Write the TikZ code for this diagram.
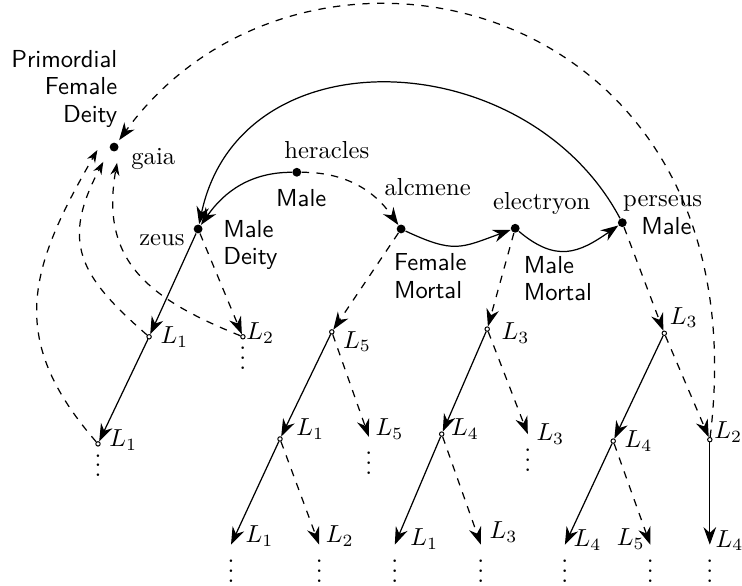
\documentclass[tikz,border=0pt]{standalone}
\usepackage{tikz}
\usetikzlibrary{arrows.meta}
\tikzset{
  godDot/.style={circle, fill=black, inner sep=0pt, minimum size=3.6pt},
  lvlDot/.style={circle, draw=black, fill=white, inner sep=0pt, minimum size=1.8pt},
  leafDots/.style={inner sep=0pt, anchor=north},
  nameLbl/.style={font=\normalsize},
  attrLbl/.style={font={\sffamily\fontsize{10}{11}\selectfont}, align=left},
  litLbl/.style={font=\normalsize},
  dotsLbl/.style={inner sep=0pt, yshift=3pt},
  arrowS/.style={-{Stealth[length=2.5mm, width=1.8mm]}, line width=0.5pt},
  arrowD/.style={-{Stealth[length=2.5mm, width=1.8mm]}, line width=0.5pt, dashed},
  arrowBack/.style={-{Stealth[length=1.8mm, width=1.3mm]}, line width=0.5pt, dashed},
}
\begin{document}
\begin{tikzpicture}
  \useasboundingbox (0,0) rectangle (10.6,8.371);

  % the family on top
  \node[godDot, label={[nameLbl, xshift=1.5pt, yshift=-5pt]right:gaia},
    label={[attrLbl, align=right, anchor=south east, xshift=4.8pt, yshift=2.6pt]above:Primordial\\Female\\Deity}] (gaia) at (1.63,6.27) {};
  \node[godDot, label={[nameLbl, yshift=-4.4pt]left:zeus},
    label={[attrLbl, xshift=4.7pt, yshift=-6.6pt]right:Male\\Deity}] (zeus) at (2.83,5.10) {};
  \node[godDot, label={[nameLbl, xshift=12.2pt]above:heracles},
    label={[attrLbl, xshift=1.8pt, yshift=-1.5pt]below:Male}] (heracles) at (4.24,5.91) {};
  \node[godDot, label={[nameLbl, xshift=10.8pt, yshift=7.9pt]above:alcmene},
    label={[attrLbl, anchor=north west, xshift=-6.4pt, yshift=-4.6pt]below:Female\\Mortal}] (alcmene) at (5.73,5.10) {};
  \node[godDot, label={[nameLbl, xshift=10.8pt]above:electryon},
    label={[attrLbl, anchor=north west, yshift=-5.8pt]below:Male\\Mortal}] (electryon) at (7.36,5.11) {};
  \node[godDot, label={[nameLbl, xshift=16.4pt, yshift=-1pt]above:perseus},
    label={[attrLbl, xshift=2.2pt, yshift=-1.2pt]right:Male}] (perseus) at (8.89,5.19) {};

  % first level
  \node[lvlDot, label={[litLbl]right:$L_1$}] (z1) at (2.13,3.56) {};
  \node[lvlDot, label={[litLbl, xshift=-3.2pt, yshift=1.6pt]right:$L_2$},
    label={[dotsLbl]below:$\vdots$}] (z2) at (3.47,3.56) {};
  \node[lvlDot, label={[litLbl, yshift=-4pt]right:$L_5$}] (a1) at (4.74,3.63) {};
  \node[lvlDot, label={[litLbl, xshift=1.2pt, yshift=-1.6pt]right:$L_3$}] (e1) at (6.96,3.67) {};
  \node[lvlDot, label={[litLbl, xshift=-2.4pt, yshift=6.4pt]right:$L_3$}] (p1) at (9.49,3.61) {};

  % second level
  \node[lvlDot, label={[litLbl, yshift=1.6pt]right:$L_1$},
    label={[dotsLbl]below:$\vdots$}] (z11) at (1.40,2.03) {};
  \node[lvlDot, label={[litLbl, xshift=2pt, yshift=4pt]right:$L_1$}] (a11) at (4.00,2.10) {};
  \node[leafDots, label={[litLbl, anchor=west, xshift=-0.8pt, yshift=3.2pt]north:$L_5$}] (a12) at (5.27,2.13) {$\vdots$};
  \node[lvlDot, label={[litLbl, xshift=-0.8pt, yshift=2pt]right:$L_4$}] (e11) at (6.31,2.17) {};
  \node[leafDots, label={[litLbl, anchor=west]north:$L_3$}] (e12) at (7.54,2.17) {$\vdots$};
  \node[lvlDot, label={[litLbl]right:$L_4$}] (p11) at (8.76,2.07) {};
  \node[lvlDot, label={[litLbl, xshift=-2.8pt, yshift=3.2pt]right:$L_2$}] (p12) at (10.14,2.09) {};

  % third level
  \node[leafDots, label={[litLbl, anchor=west, xshift=2.4pt, yshift=3.6pt]north:$L_1$}] (a111) at (3.30,0.59) {$\vdots$};
  \node[leafDots, label={[litLbl, anchor=west, xshift=-0.8pt, yshift=3.6pt]north:$L_2$}] (a112) at (4.56,0.59) {$\vdots$};
  \node[leafDots, label={[litLbl, anchor=west, xshift=2.8pt, yshift=2.4pt]north:$L_1$}] (e111) at (5.64,0.59) {$\vdots$};
  \node[leafDots, label={[litLbl, anchor=west, yshift=5.2pt]north:$L_3$}] (e112) at (6.87,0.59) {$\vdots$};
  \node[leafDots, label={[litLbl, anchor=west, yshift=2pt]north:$L_4$}] (p111) at (8.07,0.59) {$\vdots$};
  \node[leafDots, label={[litLbl, anchor=east, xshift=1.2pt, yshift=2.4pt]north:$L_5$}] (p112) at (9.29,0.59) {$\vdots$};
  \node[leafDots, label={[litLbl, anchor=west, xshift=-1.2pt, yshift=1.6pt]north:$L_4$}] (p121) at (10.14,0.59) {$\vdots$};

  % links between the named ones
  \draw[arrowS] (heracles) to[out=180, in=55] (zeus);
  \draw[arrowD] (heracles) to[out=0, in=125] (alcmene);
  \draw[arrowS] (alcmene) to[out=-25, in=200, looseness=1.3] (electryon);
  \draw[arrowS] (electryon) to[out=-40, in=215, looseness=1.25] (perseus);
  \draw[arrowS] (perseus) to[out=118, in=78, looseness=1.2] (zeus);

  % the trees
  \draw[arrowS] (zeus) -- (z1);
  \draw[arrowD] (zeus) -- (z2);
  \draw[arrowS] (z1) -- (z11);
  \draw[arrowD] (alcmene) -- (a1);
  \draw[arrowS] (a1) -- (a11);
  \draw[arrowD] (a1) -- (a12.north);
  \draw[arrowS] (a11) -- (a111.north);
  \draw[arrowD] (a11) -- (a112.north);
  \draw[arrowD] (electryon) -- (e1);
  \draw[arrowS] (e1) -- (e11);
  \draw[arrowD] (e1) -- (e12.north);
  \draw[arrowS] (e11) -- (e111.north);
  \draw[arrowD] (e11) -- (e112.north);
  \draw[arrowD] (perseus) -- (p1);
  \draw[arrowS] (p1) -- (p11);
  \draw[arrowD] (p1) -- (p12);
  \draw[arrowS] (p11) -- (p111.north);
  \draw[arrowD] (p11) -- (p112.north);
  \draw[arrowS] (p12) -- (p121.north);

  % back to gaia
  \draw[arrowBack] (z11) to[out=131, in=240, looseness=1.2] ([shift={(-6.8pt,-1.2pt)}]gaia.center);
  \draw[arrowBack] (z1) to[out=139, in=242, looseness=1.3] ([shift={(-4.4pt,-6pt)}]gaia.center);
  \draw[arrowBack] (z2) to[out=158, in=260, looseness=1.2] ([shift={(1.2pt,-6.4pt)}]gaia.center);
  \draw[arrowD, shorten >=1.5pt] (p12) to[out=83, in=54, out distance=6.4cm, in distance=4.5cm] (gaia);
\end{tikzpicture}
\end{document}
